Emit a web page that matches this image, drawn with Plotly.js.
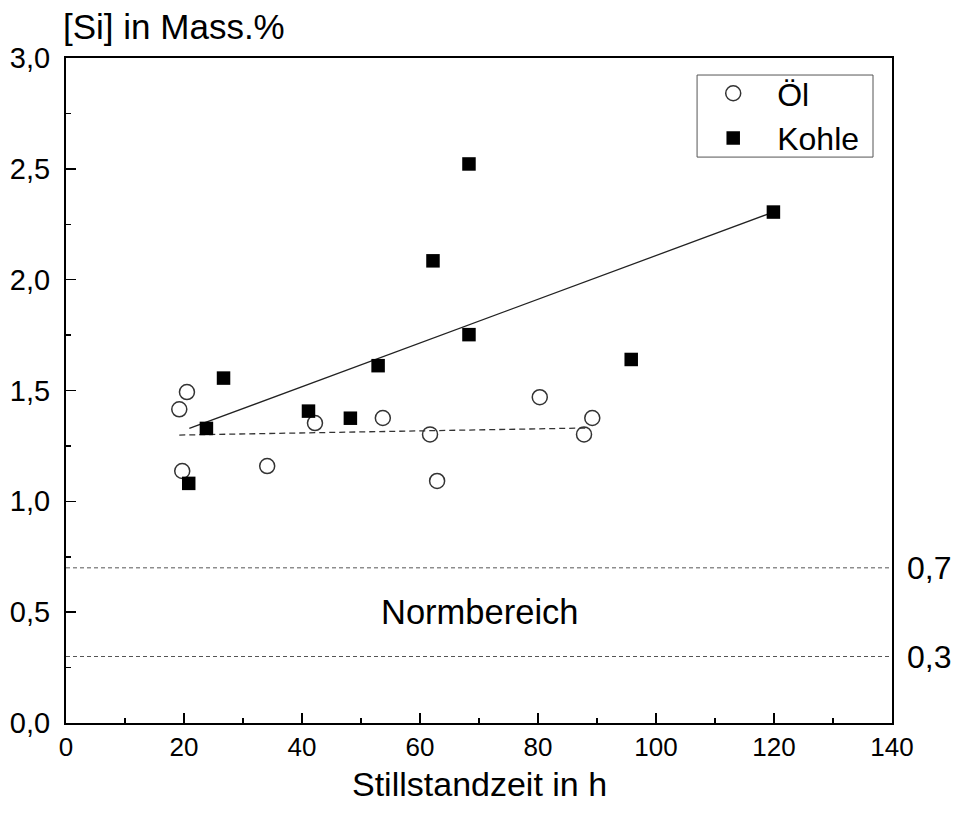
<!DOCTYPE html>
<html>
<head>
<meta charset="utf-8">
<script src="https://cdn.plot.ly/plotly-3.0.1.min.js"></script>
<style>html,body{margin:0;padding:0;background:#fff;}#chart{width:958px;height:816px;}</style>
</head>
<body>
<div id="chart"></div>
<script>
// Öl (oil) measurements
const oilX = [19.2, 20.5, 19.7, 34.1, 42.2, 53.7, 61.7, 62.9, 80.3, 87.8, 89.2];
const oilY = [1.415, 1.493, 1.137, 1.159, 1.353, 1.376, 1.302, 1.092, 1.470, 1.302, 1.376];
// Kohle (coal) measurements
const coalX = [20.8, 23.8, 26.7, 41.1, 48.2, 52.9, 62.2, 68.3, 68.3, 95.8, 119.9];
const coalY = [1.081, 1.329, 1.556, 1.407, 1.375, 1.612, 2.085, 2.522, 1.752, 1.640, 2.305];
// fitted trend lines (end points)
const oilFitX = [19.2, 88.5];
const oilFitY = [1.299, 1.331];
const coalFitX = [20.9, 119.9];
const coalFitY = [1.329, 2.305];
// norm range limits
const normLimits = [0.7, 0.3];
const normLabels = ["0,7", "0,3"];
const normText = "Normbereich";
const normTextPos = [70, 0.5];
const seriesNames = ["Öl", "Kohle"];
const xTitle = "Stillstandzeit in h";
const yTitle = "[Si] in Mass.%";

const FONT = "Liberation Sans, Arial, sans-serif";

const traces = [
  {x: oilFitX, y: oilFitY, mode: "lines", showlegend: false, hoverinfo: "skip",
   line: {color: "#333", width: 1.3, dash: "6px,4px"}},
  {x: coalFitX, y: coalFitY, mode: "lines", showlegend: false, hoverinfo: "skip",
   line: {color: "#222", width: 1.3}},
  {x: oilX, y: oilY, name: seriesNames[0], mode: "markers",
   marker: {symbol: "circle-open", size: 15, color: "#333", line: {width: 1.5, color: "#333"}}},
  {x: coalX, y: coalY, name: seriesNames[1], mode: "markers",
   marker: {symbol: "square", size: 13.5, color: "#000"}}
];

const shapes = normLimits.map(v => ({
  type: "line", xref: "paper", x0: 0, x1: 1, yref: "y", y0: v, y1: v,
  line: {color: "#555", width: 1, dash: "4px,3px"}, layer: "below"
}));
// legend frame
shapes.push({
  type: "rect", xref: "paper", yref: "paper", x0: 0.764, x1: 0.977, y0: 0.851, y1: 0.9744,
  line: {color: "#555", width: 1}, fillcolor: "rgba(0,0,0,0)"
});

const annotations = normLimits.map((v, i) => ({
  xref: "paper", x: 1, xanchor: "left", xshift: 13, yref: "y", y: v, yanchor: "middle",
  text: normLabels[i], showarrow: false, font: {family: FONT, size: 32, color: "#000"}
}));
annotations.push({
  xref: "x", x: normTextPos[0], yref: "y", y: normTextPos[1], text: normText,
  showarrow: false, xanchor: "center", yanchor: "middle",
  font: {family: FONT, size: 34.5, color: "#000"}
});
annotations.push({
  xref: "paper", x: 0, xanchor: "left", xshift: -5, yref: "paper", y: 1.048, yanchor: "middle",
  text: yTitle, showarrow: false, font: {family: FONT, size: 35, color: "#000"}
});
annotations.push({
  xref: "paper", x: 0.5, xanchor: "center", yref: "paper", y: -0.092, yanchor: "middle",
  text: xTitle, showarrow: false, font: {family: FONT, size: 34, color: "#000"}
});

const axisCommon = {
  showgrid: false, zeroline: false, showline: true, linecolor: "#000", linewidth: 2,
  mirror: true, ticks: "inside", ticklen: 10, tickwidth: 1.5, tickcolor: "#000"
};

const layout = {
  width: 958, height: 816,
  margin: {l: 66, r: 66, t: 58, b: 93},
  paper_bgcolor: "#fff", plot_bgcolor: "#fff",
  separators: ",.",
  font: {family: FONT, color: "#000"},
  xaxis: Object.assign({}, axisCommon, {
    range: [0, 140], dtick: 20, tick0: 0,
    tickfont: {family: FONT, size: 26, color: "#000"},
    minor: {dtick: 10, ticks: "inside", ticklen: 5, tickwidth: 1.5, tickcolor: "#000"},
    ticklabelstandoff: 0
  }),
  yaxis: Object.assign({}, axisCommon, {
    range: [0, 3], dtick: 0.5, tick0: 0, tickformat: ".1f",
    tickfont: {family: FONT, size: 29, color: "#000"},
    minor: {dtick: 0.25, ticks: "inside", ticklen: 5, tickwidth: 1.5, tickcolor: "#000"},
    ticklabelstandoff: 8
  }),
  legend: {
    x: 0.7545, y: 0.988, xanchor: "left", yanchor: "top",
    borderwidth: 0, bgcolor: "rgba(255,255,255,0)",
    font: {family: FONT, size: 32, color: "#000"}, itemwidth: 78,
    tracegroupgap: 0
  },
  shapes: shapes,
  annotations: annotations,
  showlegend: true
};

Plotly.newPlot("chart", traces, layout, {displayModeBar: false, staticPlot: true});
</script>
</body>
</html>
